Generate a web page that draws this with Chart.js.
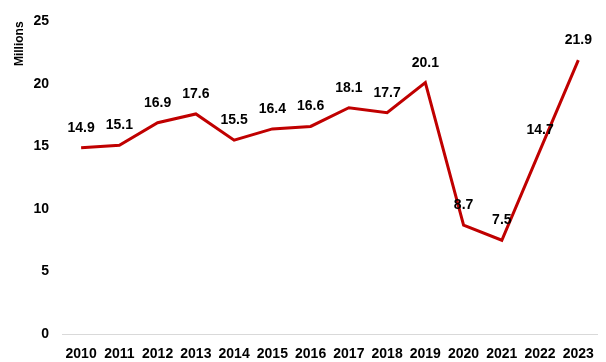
<!DOCTYPE html>
<html>
<head>
<meta charset="utf-8">
<script src="https://cdn.jsdelivr.net/npm/chart.js@4/dist/chart.umd.min.js"></script>
<style>
  html, body { margin: 0; padding: 0; background: #fff; }
  #wrap { width: 606px; height: 362px; }
</style>
</head>
<body>
<div id="wrap"><canvas id="visitorsChart"></canvas></div>
<script>
const years = ['2010', '2011', '2012', '2013', '2014', '2015', '2016', '2017', '2018', '2019', '2020', '2021', '2022', '2023'];
const visitors = [14.9, 15.1, 16.9, 17.6, 15.5, 16.4, 16.6, 18.1, 17.7, 20.1, 8.7, 7.5, 14.7, 21.9];
const yTicks = [0, 5, 10, 15, 20, 25];

const FONT = '"Liberation Sans", Arial, sans-serif';

// values written above each point
const pointLabels = {
  id: 'pointLabels',
  afterDatasetsDraw(chart) {
    const { ctx } = chart;
    const meta = chart.getDatasetMeta(0);
    ctx.save();
    ctx.font = 'bold 14px ' + FONT;
    ctx.fillStyle = '#000';
    ctx.textAlign = 'center';
    ctx.textBaseline = 'middle';
    meta.data.forEach((pt, i) => {
      ctx.fillText(visitors[i].toFixed(1), pt.x, pt.y - 20);
    });
    ctx.restore();
  }
};

const canvas = document.getElementById('visitorsChart');
new Chart(canvas, {
  type: 'line',
  data: {
    labels: years,
    datasets: [
      {
        data: visitors,
        borderColor: '#C00000',
        borderWidth: 3,
        pointRadius: 0,
        tension: 0,
        fill: false
      }
    ]
  },
  options: {
    responsive: true,
    maintainAspectRatio: false,
    animation: false,
    layout: { padding: { top: 11, right: 3, left: 12, bottom: 0 } },
    plugins: {
      legend: { display: false },
      tooltip: { enabled: false }
    },
    scales: {
      x: {
        offset: true,
        grid: { display: false, drawTicks: false },
        border: { display: true, color: '#d9d9d9', width: 1 },
        // fixed band below the axis line
        afterFit: (axis) => { axis.height = 28; },
        ticks: {
          color: '#000',
          padding: 12,
          maxRotation: 0,
          autoSkip: false,
          font: { family: FONT, size: 14, weight: 'bold' }
        }
      },
      y: {
        min: 0,
        max: 25,
        afterBuildTicks: (axis) => { axis.ticks = yTicks.map((v) => ({ value: v })); },
        afterFit: (axis) => { axis.width = 50; },
        grid: { display: false, drawTicks: false },
        border: { display: false },
        ticks: {
          color: '#000',
          padding: 13,
          font: { family: FONT, size: 14, weight: 'bold' }
        },
        title: {
          display: true,
          text: 'Millions',
          align: 'end',
          color: '#000',
          padding: { top: 0, bottom: 2 },
          font: { family: FONT, size: 12, weight: 'bold' }
        }
      }
    }
  },
  plugins: [pointLabels]
});
</script>
</body>
</html>
